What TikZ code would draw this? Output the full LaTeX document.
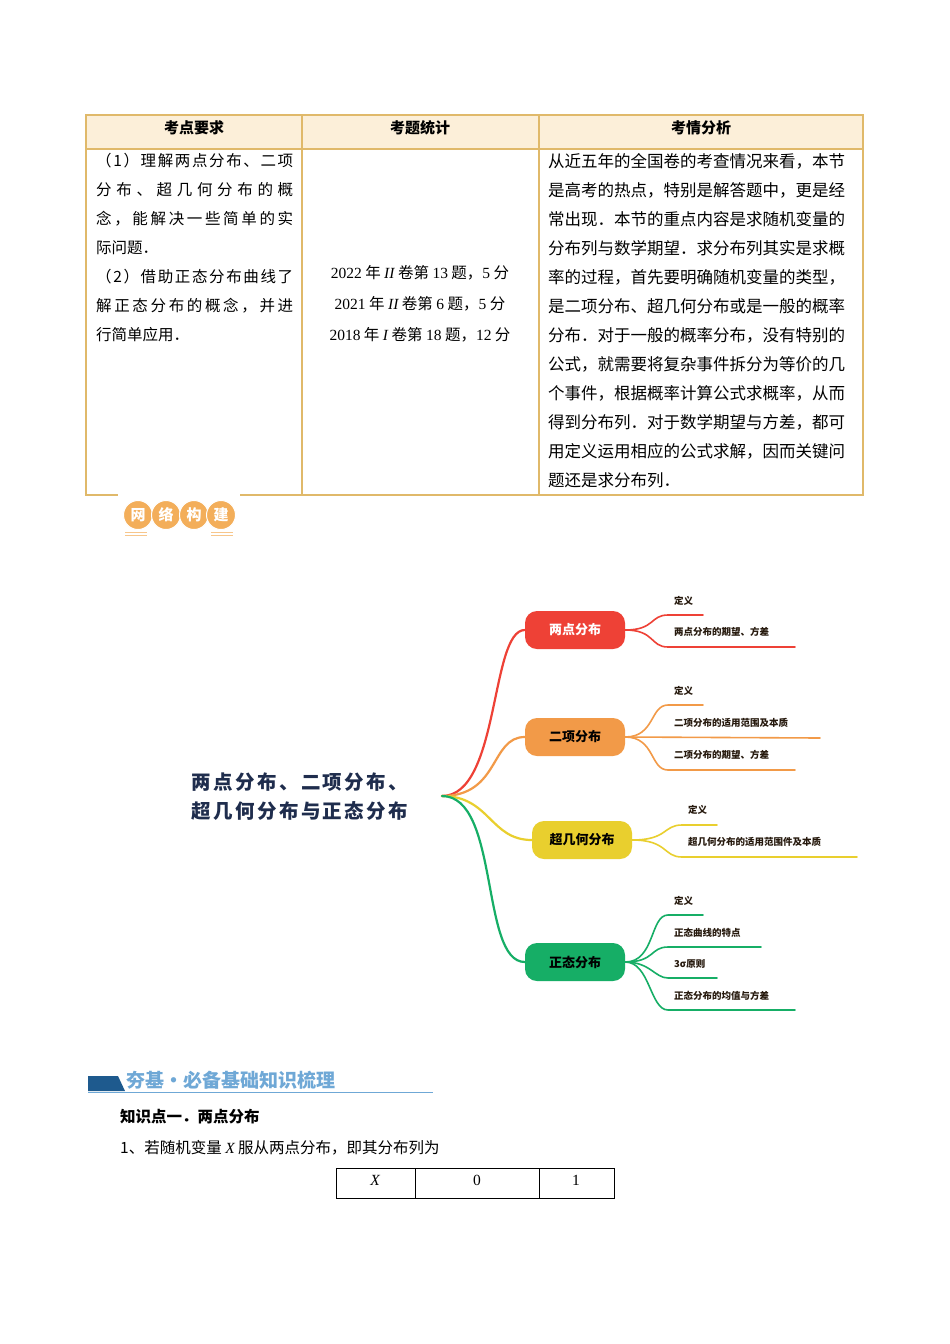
\documentclass[tikz,border=0pt]{standalone}
\usepackage{fontspec}
\setmainfont{Noto Sans CJK SC}
\newfontfamily\serf{Liberation Serif}
\usetikzlibrary{shapes.geometric}
\definecolor{tbl}{HTML}{E0B96A}
\definecolor{thd}{HTML}{FCEFD9}
\definecolor{cr}{HTML}{EE4136}
\definecolor{co}{HTML}{F29A48}
\definecolor{cy}{HTML}{E9CF2E}
\definecolor{cg}{HTML}{16AE66}
\definecolor{badge}{HTML}{F3AE5A}
\definecolor{navy}{HTML}{1F2D4D}
\definecolor{dkb}{HTML}{1E5A8E}
\definecolor{ltb}{HTML}{6FA8D6}
\def\spr#1{#1\sprB}
\def\sprB#1{\ifx#1\relax\else\hfil#1\expandafter\sprB\fi}
\tikzset{
  tx/.style={anchor=west,inner sep=0,font=\fontsize{15.5}{18}\selectfont},
  tc/.style={anchor=center,inner sep=0,font=\fontsize{15.5}{18}\selectfont},
  hd/.style={anchor=center,inner sep=0,font=\bfseries\fontsize{15}{18}\selectfont},
  pill/.style={rounded corners=12pt,minimum width=100pt,minimum height=38pt,inner sep=0,font=\bfseries\fontsize{13}{15}\selectfont},
  leaf/.style={anchor=west,inner sep=0,font=\bfseries\fontsize{9.5}{11}\selectfont,text=black!80!brown},
  br/.style={line width=2.2pt,line cap=round},
  lf/.style={line width=1.6pt,line cap=round},
  bd/.style={circle,fill=badge,draw=white,line width=1pt,minimum size=29pt,inner sep=0,text=white,font=\bfseries\fontsize{15}{16}\selectfont}
}
\begin{document}
\begin{tikzpicture}[x=1pt,y=-1pt]
\useasboundingbox[fill=white] (0,0) rectangle (950,1344);
% top table
\fill[thd] (86,115) rectangle (863,149);
\draw[tbl,line width=1.2pt] (86,115) rectangle (863,495);
\draw[tbl,line width=1.2pt] (86,149) -- (863,149) (302,115) -- (302,495) (539,115) -- (539,495);
\node[hd] (h1) at (194,128) {考点要求};
\node[hd] (h2) at (420,128) {考题统计};
\node[hd] (h3) at (701,128) {考情分析};
\node[tx] (a1) at (96,161) {\hbox to 197pt{\spr（1）理解两点分布、二项\relax}};
\node[tx] (a2) at (96,190) {\hbox to 197pt{\spr 分布、超几何分布的概\relax}};
\node[tx] (a3) at (96,219) {\hbox to 197pt{\spr 念，能解决一些简单的实\relax}};
\node[tx] (a4) at (96,248) {际问题．};
\node[tx] (a5) at (96,277) {\hbox to 197pt{\spr（2）借助正态分布曲线了\relax}};
\node[tx] (a6) at (96,306) {\hbox to 197pt{\spr 解正态分布的概念，并进\relax}};
\node[tx] (a7) at (96,335) {行简单应用．};
\node[tc] (b1) at (420,273) {{\serf 2022} 年 {\serf\itshape II} 卷第 {\serf 13} 题，{\serf 5} 分};
\node[tc] (b2) at (420,304) {{\serf 2021} 年 {\serf\itshape II} 卷第 {\serf 6} 题，{\serf 5} 分};
\node[tc] (b3) at (420,335) {{\serf 2018} 年 {\serf\itshape I} 卷第 {\serf 18} 题，{\serf 12} 分};
\foreach \t [count=\i] in {从近五年的全国卷的考查情况来看，本节,是高考的热点，特别是解答题中，更是经,常出现．本节的重点内容是求随机变量的,分布列与数学期望．求分布列其实是求概,率的过程，首先要明确随机变量的类型，,是二项分布、超几何分布或是一般的概率,分布．对于一般的概率分布，没有特别的,公式，就需要将复杂事件拆分为等价的几,个事件，根据概率计算公式求概率，从而,得到分布列．对于数学期望与方差，都可,用定义运用相应的公式求解，因而关键问,题还是求分布列．}
  \node[tx,font=\fontsize{16.5}{18}\selectfont] (c\i) at (548,{161+29*(\i-1)}) {\t};
% badge
\fill[white] (118,490) rectangle (240,500);
\foreach \t/\x [count=\i] in {网/138,络/166,构/194,建/221}
  \node[bd] (g\i) at (\x,515) {\t};
\draw[badge!70,line width=1pt] (125,532) -- (147,532) (125,535.5) -- (147,535.5) (211,532) -- (233,532) (211,535.5) -- (233,535.5);
% mind map
\node[font=\bfseries\fontsize{19.5}{29}\selectfont\addfontfeatures{LetterSpace=12},text=navy,align=center] (root) at (300,797) {两点分布、二项分布、\\超几何分布与正态分布};
\coordinate (o) at (442,796);
\node[pill,fill=cr,text=white] (p1) at (575,630) {两点分布};
\node[pill,fill=co,text=black] (p2) at (575,737) {二项分布};
\node[pill,fill=cy,text=black] (p3) at (582,840) {超几何分布};
\node[pill,fill=cg,text=black] (p4) at (575,962) {正态分布};
\draw[br,cr] (o) .. controls (500,796) and (490,630) .. (p1.west);
\draw[br,co] (o) .. controls (500,796) and (490,737) .. (p2.west);
\draw[br,cy] (o) .. controls (490,796) and (490,840) .. (p3.west);
\draw[br,cg] (o) .. controls (500,796) and (480,962) .. (p4.west);
% leaves
\draw[lf,cr] (p1.east) .. controls (655,630) and (650,615) .. (668,615) -- (703,615);
\draw[lf,cr] (p1.east) .. controls (655,630) and (650,647) .. (668,647) -- (795,647);
\node[leaf] (l11) at (674,601) {定义};
\node[leaf] (l12) at (674,632) {两点分布的期望、方差};
\draw[lf,co] (p2.east) .. controls (655,737) and (650,705) .. (668,705) -- (703,705);
\draw[lf,co] (p2.east) -- (820,738);
\draw[lf,co] (p2.east) .. controls (655,737) and (650,770) .. (668,770) -- (795,770);
\node[leaf] (l21) at (674,691) {定义};
\node[leaf] (l22) at (674,723) {二项分布的适用范围及本质};
\node[leaf] (l23) at (674,755) {二项分布的期望、方差};
\draw[lf,cy] (p3.east) .. controls (668,840) and (663,825) .. (682,825) -- (717,825);
\draw[lf,cy] (p3.east) .. controls (668,840) and (663,857) .. (682,857) -- (857,857);
\node[leaf] (l31) at (688,810) {定义};
\node[leaf] (l32) at (688,842) {超几何分布的适用范围件及本质};
\draw[lf,cg] (p4.east) .. controls (655,962) and (650,915) .. (668,915) -- (703,915);
\draw[lf,cg] (p4.east) .. controls (655,962) and (650,947) .. (668,947) -- (761,947);
\draw[lf,cg] (p4.east) .. controls (650,962) and (655,978) .. (668,978) -- (717,978);
\draw[lf,cg] (p4.east) .. controls (650,962) and (650,1010) .. (668,1010) -- (795,1010);
\node[leaf] (l41) at (674,901) {定义};
\node[leaf] (l42) at (674,933) {正态曲线的特点};
\node[leaf] (l43) at (674,964) {3σ原则};
\node[leaf] (l44) at (674,996) {正态分布的均值与方差};
% section header
\fill[dkb] (88,1076) -- (118,1076) -- (125,1091) -- (88,1091) -- cycle;
\draw[ltb,line width=0.8pt] (88,1092.5) -- (433,1092.5);
\node[anchor=west,inner sep=0,text=ltb,font=\bfseries\fontsize{19}{21}\selectfont] (sec) at (126,1080) {夯基·必备基础知识梳理};
\node[anchor=west,inner sep=0,font=\bfseries\fontsize{15.5}{18}\selectfont] (k1) at (120,1117) {知识点一．两点分布};
\node[anchor=west,inner sep=0,font=\fontsize{15.5}{18}\selectfont] (k2) at (120,1148) {1、若随机变量 {\serf\itshape X} 服从两点分布，即其分布列为};
\draw[line width=0.7pt] (336,1168) rectangle (614,1198) (415,1168) -- (415,1198) (539,1168) -- (539,1198);
\node[tc] (x1) at (375,1180) {\serf\itshape X};
\node[tc] (x2) at (477,1180) {\serf 0};
\node[tc] (x3) at (576,1180) {\serf 1};
\end{tikzpicture}
\end{document}
